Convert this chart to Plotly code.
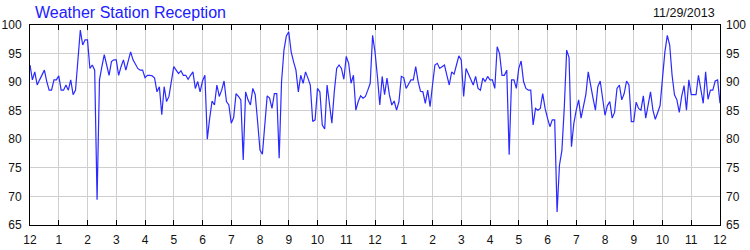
import plotly.graph_objects as go
import pandas as pd

title_text = "Weather Station Reception"
date_text = "11/29/2013"
hour_labels = ["12", "1", "2", "3", "4", "5", "6", "7", "8", "9", "10", "11",
               "12", "1", "2", "3", "4", "5", "6", "7", "8", "9", "10", "11", "12"]

# reception (%) sampled every 5 minutes, in 4-hour blocks
signal_00_04 = [93.0, 90.4, 91.8, 89.5, 90.4, 91.2, 92.1, 90.1, 88.6, 88.6, 90.4, 90.4,
                91.1, 88.6, 88.6, 89.5, 88.6, 90.4, 87.8, 88.6, 93.6, 99.1, 96.5, 97.4,
                97.4, 92.4, 93.0, 92.1, 69.4, 90.4, 92.7, 94.8, 93.0, 91.2, 93.6, 93.9,
                93.9, 91.2, 92.7, 93.9, 92.1, 93.9, 95.3, 93.9, 93.0, 92.4, 92.1, 92.1]
signal_04_08 = [90.8, 91.2, 91.2, 91.1, 90.7, 88.3, 89.2, 84.3, 89.2, 86.6, 87.5, 90.1,
                92.7, 92.1, 91.5, 92.0, 91.2, 91.2, 90.5, 91.2, 91.8, 88.9, 90.1, 88.3,
                90.2, 91.2, 80.0, 83.7, 86.7, 86.0, 89.5, 87.5, 88.6, 90.2, 86.6, 86.0,
                82.8, 83.8, 88.0, 87.5, 86.9, 76.4, 88.3, 86.9, 86.0, 88.9, 87.8, 83.1]
signal_08_12 = [78.1, 77.4, 83.1, 87.6, 87.2, 85.4, 88.0, 88.0, 76.7, 90.1, 95.6, 98.1,
                98.8, 95.3, 93.6, 92.1, 88.3, 91.2, 89.8, 91.8, 90.7, 89.5, 83.1, 83.4,
                88.9, 88.3, 82.5, 81.8, 89.5, 86.0, 82.8, 88.3, 92.4, 93.0, 92.4, 90.5,
                94.5, 93.3, 89.8, 91.2, 85.1, 86.6, 87.6, 87.2, 87.5, 88.6, 89.8, 98.2]
signal_12_16 = [95.3, 91.0, 86.0, 91.0, 87.8, 90.7, 87.8, 86.0, 86.7, 85.1, 86.6, 91.0,
                90.8, 88.9, 89.8, 90.4, 90.4, 92.7, 90.1, 88.4, 88.3, 86.3, 88.6, 85.7,
                89.5, 93.0, 93.3, 92.4, 92.7, 93.0, 91.2, 89.5, 91.8, 91.4, 93.0, 94.6,
                93.9, 87.5, 92.4, 91.5, 90.4, 89.5, 91.0, 88.9, 88.6, 90.7, 90.1, 91.0]
signal_16_20 = [90.4, 90.4, 88.9, 96.2, 95.0, 91.2, 91.2, 92.1, 77.3, 90.4, 90.4, 88.9,
                92.4, 93.7, 90.1, 88.9, 88.6, 88.6, 82.5, 85.4, 85.1, 85.4, 88.0, 85.4,
                83.7, 82.2, 83.4, 83.4, 67.3, 75.5, 78.0, 85.5, 95.6, 94.3, 78.7, 82.8,
                85.1, 86.9, 83.7, 86.0, 87.8, 91.8, 89.2, 87.2, 85.1, 89.2, 90.2, 87.2]
signal_20_24 = [84.2, 85.9, 86.6, 83.7, 84.7, 88.9, 89.5, 86.9, 88.0, 90.2, 89.5, 83.1,
                83.1, 86.5, 85.4, 85.1, 87.6, 83.7, 86.3, 88.3, 85.1, 83.5, 84.7, 85.9,
                90.7, 95.3, 98.2, 96.5, 91.2, 87.8, 86.9, 84.7, 87.5, 89.4, 85.1, 90.4,
                87.8, 87.8, 87.8, 91.2, 88.6, 86.3, 91.8, 87.0, 88.6, 88.6, 90.2, 90.4, 86.3]

values = signal_00_04 + signal_04_08 + signal_08_12 + signal_12_16 + signal_16_20 + signal_20_24
times = pd.date_range("2013-11-29 00:00", periods=len(values), freq="5min")
hour_ticks = pd.date_range("2013-11-29 00:00", periods=len(hour_labels), freq="1h")

FONT = "Liberation Sans, Arial, sans-serif"
LINE_BLUE = "#2a2aff"
GRID = "#cfcfcf"
TXT = "#111111"

fig = go.Figure()
fig.add_trace(go.Scatter(x=times, y=values, mode="lines",
                         line=dict(color=LINE_BLUE, width=1.2), showlegend=False,
                         hoverinfo="skip"))
fig.add_trace(go.Scatter(x=times, y=values, mode="lines", yaxis="y2",
                         line=dict(color="rgba(0,0,0,0)", width=0), showlegend=False,
                         hoverinfo="skip"))

fig.update_layout(
    width=750, height=250,
    margin=dict(l=30, r=30, t=25, b=25, autoexpand=False),
    paper_bgcolor="white", plot_bgcolor="white",
    font=dict(family=FONT, size=12, color=TXT),
    xaxis=dict(range=[times[0], times[-1]], tickmode="array",
               tickvals=hour_ticks, ticktext=hour_labels,
               showgrid=True, gridcolor=GRID, gridwidth=1,
               showline=True, linecolor="black", linewidth=1, mirror="ticks",
               ticks="inside", ticklen=5, tickcolor="black", tickwidth=1,
               ticklabelstandoff=4,
               tickfont=dict(family=FONT, size=12, color=TXT),
               zeroline=False, fixedrange=True, automargin=False),
    yaxis=dict(range=[65, 100], tickmode="linear", tick0=65, dtick=5,
               showgrid=True, gridcolor=GRID, gridwidth=1,
               showline=True, linecolor="black", linewidth=1, mirror=True,
               ticks="", ticklabelstandoff=5,
               tickfont=dict(family=FONT, size=12, color=TXT),
               zeroline=False, fixedrange=True, automargin=False),
    yaxis2=dict(range=[65, 100], tickmode="linear", tick0=65, dtick=5,
                overlaying="y", side="right", showgrid=False,
                showline=False, ticks="", ticklabelstandoff=5,
                tickfont=dict(family=FONT, size=12, color=TXT),
                zeroline=False, fixedrange=True, automargin=False),
    annotations=[
        dict(text=title_text, xref="paper", yref="paper", x=3 / 690, y=1.065,
             xanchor="left", yanchor="middle", showarrow=False,
             font=dict(family=FONT, size=16, color="#2020ff")),
        dict(text=date_text, xref="paper", yref="paper", x=687 / 690, y=1.06,
             xanchor="right", yanchor="middle", showarrow=False,
             font=dict(family=FONT, size=12.5, color=TXT)),
    ],
)

fig.write_html("out.html")
